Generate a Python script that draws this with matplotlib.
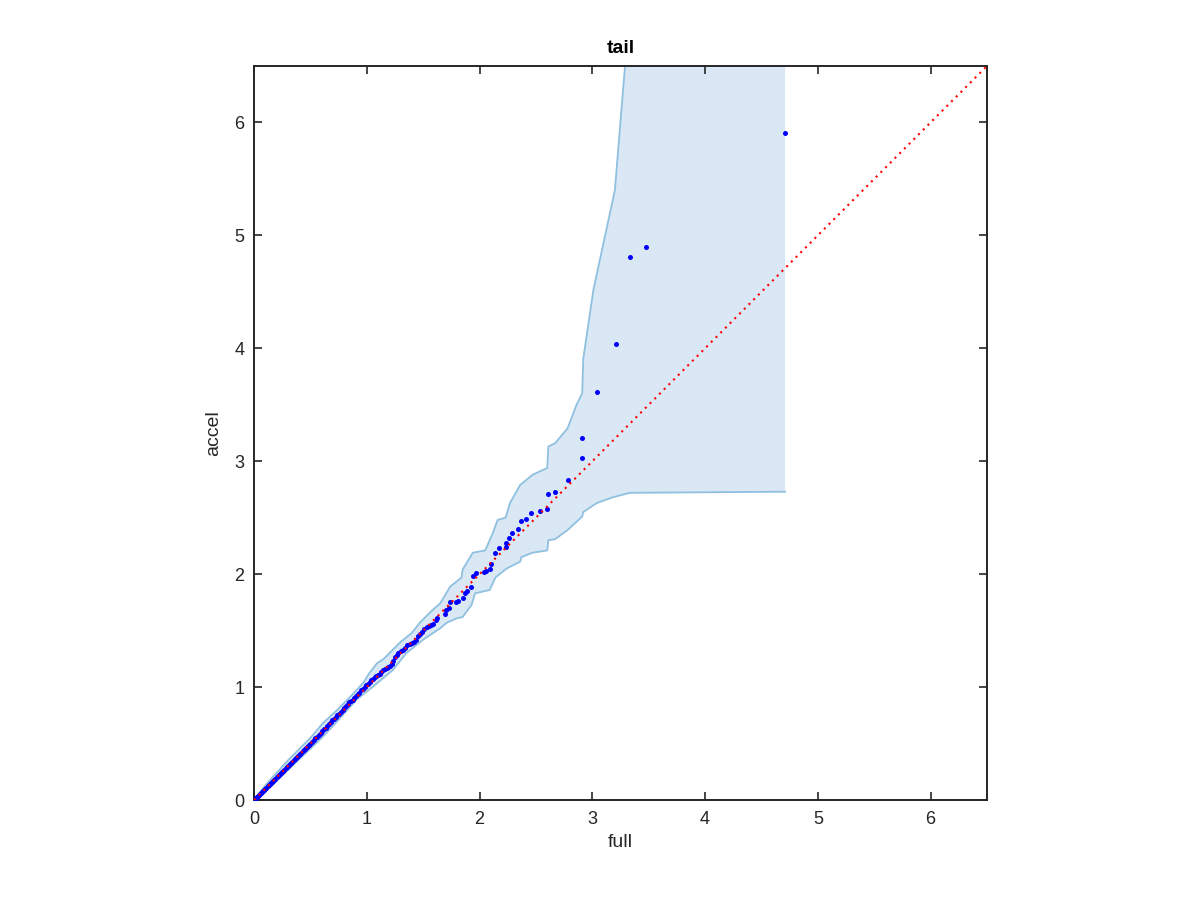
import matplotlib

matplotlib.use("Agg")
import matplotlib.pyplot as plt  # noqa: E402

plt.rcParams["font.family"] = ["Liberation Sans", "DejaVu Sans"]

# quantile pairs (full vs accel)
full_q = [
    0.000, 0.005, 0.010, 0.015, 0.020, 0.025, 0.030, 0.035, 0.040, 0.050,
    0.060, 0.070, 0.080, 0.090, 0.100, 0.110, 0.120, 0.130, 0.140, 0.150,
    0.160, 0.170, 0.180, 0.190, 0.200, 0.210, 0.220, 0.230, 0.240, 0.250,
    0.260, 0.270, 0.280, 0.290, 0.300, 0.310, 0.320, 0.330, 0.340, 0.350,
    0.360, 0.370, 0.380, 0.390, 0.400, 0.410, 0.420, 0.430, 0.440, 0.450,
    0.460, 0.470, 0.480, 0.490, 0.500, 0.515, 0.530, 0.545, 0.560, 0.575,
    0.590, 0.605, 0.620, 0.635, 0.650, 0.665, 0.680, 0.695, 0.710, 0.725,
    0.740, 0.755, 0.770, 0.785, 0.800, 0.815, 0.830, 0.845, 0.860, 0.875,
    0.890, 0.905, 0.920, 0.935, 0.950, 0.965, 0.980, 0.995, 1.010, 1.025,
    1.040, 1.055, 1.070, 1.085, 1.100, 1.115, 1.130, 1.145, 1.160, 1.175,
    1.190, 1.205, 1.220, 1.235, 1.250, 1.265, 1.280, 1.300, 1.320, 1.340,
    1.360, 1.380, 1.400, 1.420, 1.440, 1.455, 1.470, 1.490, 1.510, 1.530,
    1.550, 1.570, 1.590, 1.610, 1.620,
    1.69, 1.70, 1.73, 1.74, 1.79, 1.81, 1.85, 1.87, 1.89, 1.92, 1.94,
    1.97, 2.04, 2.06, 2.09, 2.10, 2.14, 2.17, 2.23, 2.23, 2.26, 2.29, 2.34,
    2.37, 2.41, 2.46, 2.54, 2.60, 2.61, 2.67, 2.78, 2.91, 2.91, 3.04, 3.21,
    3.33, 3.48, 4.71,
]
accel_q = [
    0.000, 0.005, 0.010, 0.015, 0.020, 0.025, 0.030, 0.035, 0.040, 0.050,
    0.060, 0.070, 0.080, 0.090, 0.100, 0.110, 0.120, 0.130, 0.140, 0.150,
    0.160, 0.170, 0.180, 0.190, 0.200, 0.210, 0.220, 0.230, 0.240, 0.250,
    0.260, 0.270, 0.280, 0.290, 0.300, 0.310, 0.320, 0.330, 0.340, 0.350,
    0.360, 0.370, 0.380, 0.390, 0.400, 0.410, 0.420, 0.430, 0.440, 0.450,
    0.460, 0.470, 0.480, 0.490, 0.500, 0.515, 0.530, 0.545, 0.560, 0.575,
    0.595, 0.610, 0.625, 0.640, 0.655, 0.670, 0.690, 0.705, 0.720, 0.735,
    0.750, 0.765, 0.780, 0.800, 0.815, 0.830, 0.850, 0.865, 0.880, 0.890,
    0.905, 0.920, 0.935, 0.950, 0.970, 0.985, 1.000, 1.015, 1.030, 1.045,
    1.060, 1.075, 1.090, 1.100, 1.110, 1.120, 1.135, 1.150, 1.160, 1.170,
    1.180, 1.190, 1.200, 1.230, 1.270, 1.285, 1.300, 1.320, 1.330, 1.350,
    1.370, 1.380, 1.390, 1.400, 1.420, 1.450, 1.470, 1.490, 1.510, 1.530,
    1.540, 1.550, 1.560, 1.590, 1.610,
    1.65, 1.68, 1.70, 1.75, 1.75, 1.76, 1.79, 1.83, 1.85, 1.89, 1.98,
    2.01, 2.02, 2.03, 2.05, 2.09, 2.19, 2.23, 2.24, 2.28, 2.32, 2.36, 2.40,
    2.47, 2.49, 2.54, 2.56, 2.58, 2.71, 2.73, 2.83, 3.03, 3.21, 3.61, 4.04,
    4.81, 4.90, 5.91,
]

# confidence band edges
upper_x = [
    0.00, 0.10, 0.30, 0.50, 0.61, 0.73, 0.85, 0.97, 1.02, 1.09, 1.15, 1.23,
    1.30, 1.40, 1.47, 1.58, 1.65, 1.74, 1.84, 1.85, 1.94, 2.05, 2.12, 2.16,
    2.23, 2.27, 2.36, 2.47, 2.60, 2.61, 2.67, 2.78, 2.86, 2.91, 2.92, 3.01,
    3.20, 3.29, 3.33,
]
upper_y = [
    0.00, 0.13, 0.35, 0.55, 0.68, 0.79, 0.91, 1.04, 1.12, 1.21, 1.25, 1.33,
    1.40, 1.48, 1.57, 1.68, 1.74, 1.89, 1.97, 2.04, 2.19, 2.21, 2.37, 2.48,
    2.50, 2.63, 2.79, 2.88, 2.94, 3.13, 3.16, 3.29, 3.50, 3.60, 3.91, 4.52,
    5.40, 6.50, 7.00,
]
lower_x = [
    0.00, 0.15, 0.40, 0.60, 0.75, 0.91, 1.05, 1.23, 1.35, 1.50, 1.65, 1.71,
    1.80, 1.85, 1.93, 1.96, 2.09, 2.14, 2.24, 2.36, 2.37, 2.47, 2.60, 2.61,
    2.67, 2.78, 2.91, 2.92, 3.04, 3.18, 3.33, 4.71,
]
lower_y = [
    0.00, 0.12, 0.36, 0.55, 0.71, 0.89, 1.00, 1.15, 1.30, 1.42, 1.52, 1.57,
    1.61, 1.62, 1.73, 1.83, 1.86, 1.97, 2.05, 2.11, 2.15, 2.19, 2.21, 2.30,
    2.31, 2.39, 2.51, 2.55, 2.63, 2.68, 2.72, 2.73,
]
band_right = 4.71
axis_max = 6.5

fill_color = "#d9e8f4"
edge_color = "#8fc0e0"
text_color = "#262626"

fig = plt.figure(figsize=(12, 9), dpi=100)
ax = fig.add_axes([0.2117, 0.1111, 0.6108, 0.8156])

# shaded band: upper edge, across the top, down the right side, back along lower edge
poly_x = upper_x + [band_right] + lower_x[::-1]
poly_y = upper_y + [upper_y[-1]] + lower_y[::-1]
ax.fill(poly_x, poly_y, color=fill_color, linewidth=0, zorder=1)
ax.plot(upper_x, upper_y, color=edge_color, linewidth=1.3, zorder=2)
ax.plot(lower_x, lower_y, color=edge_color, linewidth=1.3, zorder=2)

ax.plot(full_q, accel_q, linestyle="none", marker="o", markersize=3.6,
        markeredgewidth=0, color="#0000ff", zorder=3)
ax.plot([0, axis_max], [0, axis_max], color="#ff0000", linewidth=1.5,
        linestyle=(0, (1, 2.2)), zorder=4)

ax.set_xlim(0, axis_max)
ax.set_ylim(0, axis_max)
ticks = [0, 1, 2, 3, 4, 5, 6]
ax.set_xticks(ticks)
ax.set_yticks(ticks)
ax.tick_params(direction="in", top=True, right=True, length=6, width=1.2,
               colors=text_color, labelsize=13)
ax.tick_params(axis="x", pad=8)
ax.tick_params(axis="y", pad=7)
for spine in ax.spines.values():
    spine.set_color(text_color)
    spine.set_linewidth(1.4)

ax.set_xlabel("full", fontsize=14, color=text_color, labelpad=4)
ax.set_ylabel("accel", fontsize=14, color=text_color, labelpad=9)
ax.set_title("tail", fontsize=14, fontweight="bold", color="black", pad=9)

fig.savefig("out.png", dpi=100, facecolor="white")
plt.close(fig)
